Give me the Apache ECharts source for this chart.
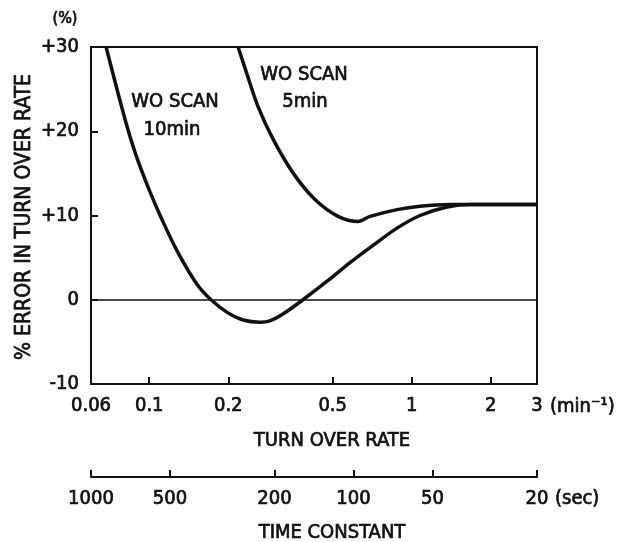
<!DOCTYPE html>
<html>
<head>
<meta charset="utf-8">
<script src="https://cdn.jsdelivr.net/npm/echarts@6/dist/echarts.min.js"></script>
<style>
html,body{margin:0;padding:0;background:#fff;}
#chart{width:626px;height:542px;}
</style>
</head>
<body>
<div id="chart"></div>
<script>
// turnover rate (min^-1) and % error for each curve
const rate10 = [0.0685, 0.0809, 0.0883, 0.0989, 0.1119, 0.1287, 0.152, 0.172, 0.198, 0.2276, 0.264, 0.288, 0.323, 0.385, 0.476, 0.582, 0.712, 0.879, 1.075, 1.363, 1.667, 3];
const err10  = [30, 21.4, 17.5, 13.4, 9.5, 5.6, 1.85, 0, -1.5, -2.4, -2.66, -2.5, -1.7, 0, 2.2, 4.4, 6.45, 8.5, 10.0, 11.0, 11.3, 11.3];
const rate5  = [0.218, 0.235, 0.260, 0.297, 0.354, 0.428, 0.524, 0.624, 0.694, 0.879, 1.075, 1.4, 3];
const err5   = [30, 26.9, 22.9, 19.0, 15.0, 11.9, 9.9, 9.3, 9.9, 10.7, 11.1, 11.3, 11.3];
const rateTicks = [0.06, 0.1, 0.2, 0.5, 1, 2, 3];
const rateInnerTicks = [0.1, 0.2, 0.5, 1, 2];
const timeTicks = [1000, 500, 200, 100, 50, 20];

const FONT = "'DejaVu Sans Condensed','DejaVu Sans',sans-serif";
const C = '#111';
const FS = 20;
const TB = {textBorderColor: C, textBorderWidth: 0.7};

function txt(x, y, text, align, size, extra) {
  return Object.assign({type: 'text', x: x, y: y,
    style: Object.assign({text: text, font: size + 'px ' + FONT, fill: C, align: align, verticalAlign: 'middle',
      stroke: C, lineWidth: 0.7})}, extra || {});
}

const chart = echarts.init(document.getElementById('chart'));
chart.setOption({
  animation: false,
  backgroundColor: '#fff',
  grid: [
    {left: 91, top: 47, right: 89, height: 337, show: true, borderColor: C, borderWidth: 2, backgroundColor: 'transparent'},
    {left: 91, top: 470, right: 89, height: 7}
  ],
  xAxis: [
    {
      type: 'log', gridIndex: 0, min: 0.06, max: 3,
      axisLine: {onZero: false, lineStyle: {color: C, width: 2}},
      axisTick: {inside: true, length: 7, lineStyle: {color: C, width: 2}, customValues: rateInnerTicks},
      axisLabel: Object.assign({customValues: rateTicks, color: C, fontFamily: FONT, fontSize: FS, margin: 12,
        formatter: v => String(v)}, TB),
      splitLine: {show: false}, minorTick: {show: false}
    },
    {
      type: 'log', gridIndex: 1, min: 20, max: 1000, inverse: true, position: 'bottom',
      axisLine: {onZero: false, lineStyle: {color: C, width: 2}},
      axisTick: {inside: true, length: 7, lineStyle: {color: C, width: 2}, customValues: timeTicks},
      axisLabel: Object.assign({customValues: timeTicks, color: C, fontFamily: FONT, fontSize: FS, margin: 12,
        formatter: v => String(v)}, TB),
      splitLine: {show: false}
    }
  ],
  yAxis: [
    {
      type: 'value', gridIndex: 0, min: -10, max: 30, interval: 10,
      axisLine: {show: true, lineStyle: {color: C, width: 2}},
      axisTick: {show: true, inside: true, length: 7, lineStyle: {color: C, width: 2}},
      axisLabel: Object.assign({color: C, fontFamily: FONT, fontSize: FS, margin: 12,
        formatter: v => (v > 0 ? '+' + v : String(v))}, TB),
      splitLine: {show: false}
    },
    {type: 'value', gridIndex: 1, show: false}
  ],
  series: [
    {
      type: 'line', xAxisIndex: 0, yAxisIndex: 0, name: 'WO SCAN 10min',
      data: rate10.map((r, i) => [r, err10[i]]),
      smooth: 0.35, showSymbol: false, lineStyle: {color: C, width: 3.5},
      markLine: {silent: true, symbol: 'none', label: {show: false},
        lineStyle: {color: C, width: 1.5, type: 'solid'}, data: [{yAxis: 0}]}
    },
    {
      type: 'line', xAxisIndex: 0, yAxisIndex: 0, name: 'WO SCAN 5min',
      data: rate5.map((r, i) => [r, err5[i]]),
      smooth: 0.35, showSymbol: false, lineStyle: {color: C, width: 3.5}
    }
  ],
  graphic: [
    txt(65, 19, '(%)', 'center', 16),
    txt(25, 217, '% ERROR IN TURN OVER RATE', 'center', 21, {rotation: Math.PI / 2}),
    txt(175, 102, 'WO SCAN', 'center', 20),
    txt(172, 130, '10min', 'center', 20),
    txt(304, 75, 'WO SCAN', 'center', 20),
    txt(305, 102, '5min', 'center', 20),
    txt(550, 407, '(min⁻¹)', 'left', 20),
    txt(332, 441, 'TURN OVER RATE', 'center', 20),
    txt(555, 499, '(sec)', 'left', 20),
    txt(332, 533, 'TIME CONSTANT', 'center', 20)
  ]
});
</script>
</body>
</html>
